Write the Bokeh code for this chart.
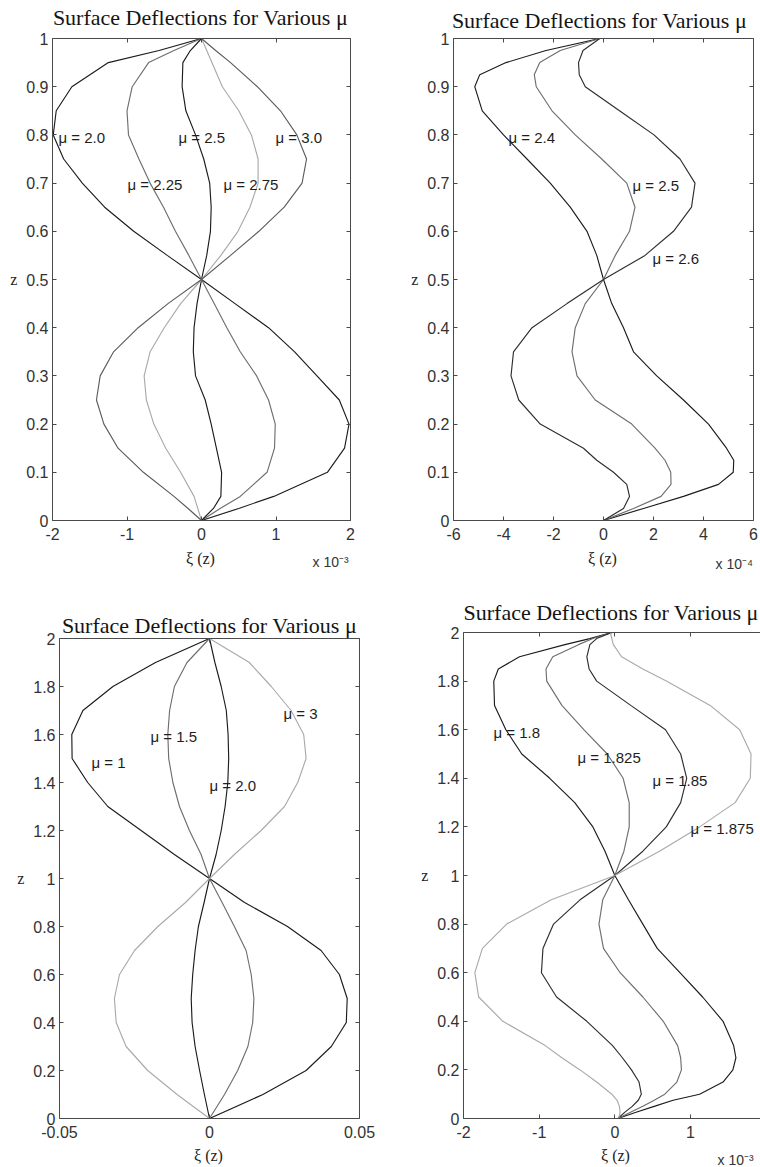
from bokeh.plotting import figure
from bokeh.models import Range1d, FixedTicker, LinearAxis, Label
from bokeh.layouts import column, row
from bokeh.embed import file_html
from bokeh.resources import INLINE

TITLE = "Surface Deflections for Various \u03bc"

# ---------------- Panel A (top-left), xi in units of 1e-3 ----------------
A_Z = [0, 0.025, 0.05, 0.1, 0.15, 0.2, 0.25, 0.3, 0.35, 0.4, 0.45, 0.5,
       0.55, 0.6, 0.65, 0.7, 0.75, 0.8, 0.85, 0.9, 0.95, 0.975, 1.0]
A_XI_200 = [0, 0.5, 0.97, 1.69, 1.92, 1.98, 1.85, 1.55, 1.25, 0.9, 0.45, 0,
            -0.46, -0.91, -1.3, -1.6, -1.85, -1.99, -1.95, -1.74, -1.25, -0.57, 0]
A_XI_225 = [0, 0.25, 0.52, 0.88, 0.98, 0.99, 0.9, 0.74, 0.52, 0.34, 0.17, 0,
            -0.17, -0.35, -0.51, -0.69, -0.84, -0.98, -1.0, -0.93, -0.71, -0.37, 0]
A_XI_250 = [0, 0.16, 0.26, 0.27, 0.2, 0.13, 0.05, -0.08, -0.11, -0.1, -0.06, 0,
            0.07, 0.12, 0.13, 0.11, 0.03, -0.08, -0.21, -0.26, -0.25, -0.15, 0]
A_XI_275 = [0, -0.05, -0.1, -0.28, -0.48, -0.64, -0.74, -0.77, -0.69, -0.5, -0.28, 0,
            0.26, 0.49, 0.65, 0.76, 0.76, 0.67, 0.5, 0.28, 0.14, 0.07, 0]
A_XI_300 = [0, -0.18, -0.37, -0.78, -1.12, -1.31, -1.41, -1.36, -1.18, -0.85, -0.45, 0,
            0.39, 0.77, 1.11, 1.35, 1.41, 1.28, 1.06, 0.75, 0.39, 0.19, 0]
A_MU = ["2.0", "2.25", "2.5", "2.75", "3.0"]
A_XTICKS = [-2, -1, 0, 1, 2]
A_XTICK_LABELS = ["-2", "-1", "0", "1", "2"]
A_YTICKS = [0, 0.1, 0.2, 0.3, 0.4, 0.5, 0.6, 0.7, 0.8, 0.9, 1]
A_YTICK_LABELS = ["0", "0.1", "0.2", "0.3", "0.4", "0.5", "0.6", "0.7", "0.8", "0.9", "1"]

# ---------------- Panel B (top-right), xi in units of 1e-4 ----------------
B_Z = [0, 0.025, 0.05, 0.075, 0.1, 0.125, 0.15, 0.2, 0.25, 0.3, 0.35, 0.4, 0.45,
       0.5, 0.55, 0.6, 0.65, 0.7, 0.75, 0.8, 0.85, 0.9, 0.925, 0.95, 0.975, 1.0]
B_XI_24 = [0, 1.6, 3.2, 4.6, 5.19, 5.21, 4.92, 4.2, 3.2, 2.13, 1.2, 0.8, 0.33,
           0, -0.27, -0.66, -1.33, -2.13, -3.06, -4.0, -4.85, -5.15, -4.95, -3.9, -2.3, -0.15]
B_XI_25 = [0, 1.2, 2.3, 2.7, 2.69, 2.46, 2.06, 1.13, -0.33, -1.06, -1.26, -1.13, -0.73,
           0, 0.47, 1.04, 1.26, 0.93, -0.07, -1.13, -2.06, -2.69, -2.77, -2.55, -1.73, -0.15]
B_XI_26 = [0, 0.8, 1.04, 0.93, 0.4, -0.27, -0.8, -2.53, -3.39, -3.7, -3.6, -2.86, -1.46,
           0, 1.66, 2.8, 3.52, 3.66, 3.06, 2.02, 0.64, -0.73, -0.97, -1.0, -0.82, -0.15]
B_MU = ["2.4", "2.5", "2.6"]
B_XTICKS = [-6, -4, -2, 0, 2, 4, 6]
B_XTICK_LABELS = ["-6", "-4", "-2", "0", "2", "4", "6"]

# ---------------- Panel C (bottom-left), xi absolute ----------------
C_Z = [0, 0.1, 0.2, 0.3, 0.4, 0.5, 0.6, 0.7, 0.8, 0.9, 1.0,
       1.1, 1.2, 1.3, 1.4, 1.5, 1.6, 1.7, 1.8, 1.9, 2.0]
C_XI_1 = [0, 0.0178, 0.0322, 0.0406, 0.0456, 0.0459, 0.0433, 0.0372, 0.026, 0.0117, 0,
          -0.0117, -0.0228, -0.0339, -0.0406, -0.0458, -0.0459, -0.0422, -0.0322, -0.018, 0]
C_XI_15 = [0, 0.005, 0.0094, 0.0128, 0.0144, 0.0148, 0.0139, 0.0122, 0.0083, 0.0042, 0,
           -0.0028, -0.0067, -0.01, -0.0122, -0.0136, -0.0139, -0.0133, -0.0117, -0.0075, 0]
C_XI_20 = [0, -0.0017, -0.0033, -0.0048, -0.0058, -0.0061, -0.0056, -0.0048, -0.0037, -0.0018, 0,
           0.0022, 0.0039, 0.0052, 0.0061, 0.0064, 0.0062, 0.0056, 0.0039, 0.0018, 0]
C_XI_3 = [0, -0.0108, -0.0206, -0.0278, -0.0311, -0.0317, -0.03, -0.025, -0.0172, -0.008, 0,
          0.0083, 0.0172, 0.025, 0.0294, 0.0322, 0.0314, 0.0272, 0.0206, 0.0133, 0]
C_MU = ["1", "1.5", "2.0", "3"]
C_XTICKS = [-0.05, 0, 0.05]
C_XTICK_LABELS = ["-0.05", "0", "0.05"]
C_YTICKS = [0, 0.2, 0.4, 0.6, 0.8, 1, 1.2, 1.4, 1.6, 1.8, 2]
C_YTICK_LABELS = ["0", "0.2", "0.4", "0.6", "0.8", "1", "1.2", "1.4", "1.6", "1.8", "2"]

# ---------------- Panel D (bottom-right), xi in units of 1e-3 ----------------
D_Z = [0, 0.025, 0.05, 0.075, 0.1, 0.15, 0.2, 0.25, 0.3, 0.4, 0.5, 0.6, 0.7, 0.8, 0.9, 1.0,
       1.1, 1.2, 1.3, 1.4, 1.5, 1.6, 1.7, 1.8, 1.85, 1.9, 1.95, 1.975, 2.0]
D_XI_1800 = [0.04, 0.27, 0.52, 0.77, 1.12, 1.43, 1.56, 1.6, 1.57, 1.43, 1.16, 0.86, 0.56, 0.37, 0.18, 0,
             -0.13, -0.29, -0.53, -0.86, -1.23, -1.44, -1.59, -1.6, -1.54, -1.26, -0.66, -0.33, -0.04]
D_XI_1825 = [0.04, 0.2, 0.37, 0.52, 0.66, 0.82, 0.88, 0.87, 0.83, 0.64, 0.37, 0.07, -0.15, -0.21, -0.16, 0,
             0.12, 0.19, 0.19, 0.11, -0.1, -0.41, -0.7, -0.9, -0.91, -0.82, -0.48, -0.29, -0.04]
D_XI_1850 = [0.04, 0.13, 0.23, 0.31, 0.35, 0.32, 0.22, 0.1, -0.03, -0.37, -0.77, -0.97, -0.95, -0.81, -0.46, 0,
             0.37, 0.68, 0.87, 0.95, 0.87, 0.67, 0.21, -0.24, -0.34, -0.37, -0.33, -0.24, -0.04]
D_XI_1875 = [0.05, 0.07, 0.06, 0.03, -0.04, -0.24, -0.46, -0.7, -0.92, -1.48, -1.8, -1.85, -1.75, -1.43, -0.84, 0,
             0.59, 1.12, 1.59, 1.79, 1.8, 1.65, 1.26, 0.68, 0.37, 0.09, -0.02, -0.04, -0.06]
D_MU = ["1.8", "1.825", "1.85", "1.875"]
D_XTICKS = [-2, -1, 0, 1]
D_XTICK_LABELS = ["-2", "-1", "0", "1"]

# ---------------- styling ----------------
AX = "#4a4a4a"
TICK_TXT = "#333333"
SANS = "Liberation Sans"
SERIF = "Liberation Serif"
BLACK = "#1c1c1c"
DARK = "#2e2e2e"
MID = "#6e6e6e"
MID2 = "#5c5c5c"
LIGHT = "#aaaaaa"


def style_axis(ax, ticks, labels, show=True, standoff=5):
    ax.ticker = FixedTicker(ticks=ticks)
    ax.major_label_overrides = {t: s for t, s in zip(ticks, labels)}
    ax.axis_line_color = AX
    ax.axis_line_width = 1
    ax.major_tick_line_color = AX
    ax.major_tick_in = 4
    ax.major_tick_out = 0
    ax.minor_tick_line_color = None
    ax.major_label_text_font = SANS
    if show:
        ax.major_label_text_color = TICK_TXT
        ax.major_label_text_font_size = "16px"
        ax.major_label_standoff = standoff
    else:
        ax.major_label_text_color = None
        ax.major_label_text_font_size = "1px"
        ax.major_label_standoff = 0


def build(spec):
    ox, oy, w, h = spec["box"]
    L, T, R, B = spec["frame"]
    x0, x1 = spec["xr"]
    y0, y1 = spec["yr"]
    p = figure(width=w, height=h, x_range=Range1d(x0, x1), y_range=Range1d(y0, y1),
               output_backend="svg", toolbar_location=None, tools="",
               min_border_left=L - ox, min_border_right=ox + w - R,
               min_border_top=T - oy, min_border_bottom=oy + h - B)
    p.outline_line_color = None
    p.xgrid.visible = False
    p.ygrid.visible = False
    p.background_fill_color = "white"
    p.border_fill_color = "white"
    p.title.visible = False
    if spec.get("margin"):
        p.margin = spec["margin"]

    xa = p.xaxis[0]
    ya = p.yaxis[0]
    style_axis(xa, spec["xticks"], spec["xlabels"], True, 7)
    style_axis(ya, spec["yticks"], spec["ylabels"], True, 4)
    ya.axis_label = "z"
    ya.axis_label_text_font = SERIF
    ya.axis_label_text_font_size = "16px"
    ya.axis_label_text_font_style = "normal"
    ya.axis_label_text_color = "#222222"
    ya.axis_label_standoff = 6
    try:
        ya.axis_label_orientation = "horizontal"
    except Exception:
        pass

    top = LinearAxis()
    p.add_layout(top, "above")
    style_axis(top, spec["xticks"], spec["xlabels"], False)
    if spec["right"]:
        rt = LinearAxis()
        p.add_layout(rt, "right")
        style_axis(rt, spec["yticks"], spec["ylabels"], False)

    def X(px):
        return x0 + (px - L) / (R - L) * (x1 - x0)

    def Y(py):
        return y1 - (py - T) / (B - T) * (y1 - y0)

    # title (placed in the band above the frame)
    tx, ty, talign = spec["title_px"]
    p.add_layout(Label(x=X(tx), y=Y(ty), text=TITLE, text_font=SERIF,
                       text_font_size="22px", text_color="#141414",
                       text_align=talign, text_baseline="middle"), "above")
    # x-axis label
    lx, ly = spec["xlab_px"]
    p.add_layout(Label(x=X(lx), y=Y(ly), text="\u03be (z)", text_font=SERIF,
                       text_font_size="16px", text_color="#222222",
                       text_align="center", text_baseline="middle"), "below")
    # scale multiplier
    if spec["mult"]:
        (mx, my), txt, side = spec["mult"]
        p.add_layout(Label(x=X(mx), y=Y(my), text=txt, text_font=SANS,
                           text_font_size="14px", text_color=TICK_TXT,
                           text_align="left", text_baseline="middle"), side)

    for xs, color in spec["series"]:
        p.line(x=xs, y=spec["z"], line_color=color, line_width=1.15)

    for (px, py), mu in zip(spec["label_px"], spec["mu"]):
        p.add_layout(Label(x=X(px), y=Y(py), text="\u03bc = " + mu, text_font=SANS,
                           text_font_size="15px", text_color="#1e1e1e",
                           text_align="left", text_baseline="middle"))
    return p


specA = dict(box=(0, 0, 380, 583), frame=(52, 38, 350, 520), xr=(-2, 2), yr=(0, 1),
             xticks=A_XTICKS, xlabels=A_XTICK_LABELS, yticks=A_YTICKS, ylabels=A_YTICK_LABELS,
             right=True, z=A_Z,
             series=[(A_XI_200, BLACK), (A_XI_225, MID), (A_XI_250, BLACK),
                     (A_XI_275, LIGHT), (A_XI_300, MID2)],
             mu=A_MU, label_px=[(58, 137), (127, 184), (178, 137), (223, 184), (275, 137)],
             title_px=(200, 17, "center"), xlab_px=(200, 558),
             mult=((312, 561), "x 10\u207b\u00b3", "below"))

specB = dict(box=(380, 0, 380, 583), frame=(453, 38, 753, 520), xr=(-6, 6), yr=(0, 1),
             xticks=B_XTICKS, xlabels=B_XTICK_LABELS, yticks=A_YTICKS, ylabels=A_YTICK_LABELS,
             right=True, z=B_Z,
             series=[(B_XI_24, BLACK), (B_XI_25, MID), (B_XI_26, DARK)],
             mu=B_MU, label_px=[(508, 137), (632, 185), (652, 258)],
             title_px=(599, 20, "center"), xlab_px=(602, 558),
             mult=((715, 563), "x 10\u207b\u2074", "below"))

specC = dict(box=(0, 583, 380, 584), frame=(59, 638, 359, 1118), xr=(-0.05, 0.05), yr=(0, 2),
             xticks=C_XTICKS, xlabels=C_XTICK_LABELS, yticks=C_YTICKS, ylabels=C_YTICK_LABELS,
             right=True, z=C_Z,
             series=[(C_XI_1, BLACK), (C_XI_15, MID), (C_XI_20, BLACK), (C_XI_3, LIGHT)],
             mu=C_MU, label_px=[(91, 762), (150, 736), (209, 785), (283, 713)],
             title_px=(209, 625, "center"), xlab_px=(208, 1155), mult=None)

D_X1 = 1.925
specD = dict(box=(380, 577, 380, 590), frame=(463, 632, 760, 1118), xr=(-2, D_X1), yr=(0, 2),
             xticks=D_XTICKS, xlabels=D_XTICK_LABELS, yticks=C_YTICKS, ylabels=C_YTICK_LABELS,
             right=False, z=D_Z, margin=(-6, 0, 0, 0),
             series=[(D_XI_1800, BLACK), (D_XI_1825, MID), (D_XI_1850, DARK), (D_XI_1875, LIGHT)],
             mu=D_MU, label_px=[(493, 732), (577, 757), (652, 780), (690, 828)],
             title_px=(463, 612, "left"), xlab_px=(615, 1155),
             mult=((717, 1159), "x 10\u207b\u00b3", "left"))

pA = build(specA)
pB = build(specB)
pC = build(specC)
pD = build(specD)

layout = column(row(pA, pB, spacing=0), row(pC, pD, spacing=0), spacing=0)

with open("out.html", "w") as f:
    f.write(file_html(layout, INLINE))
